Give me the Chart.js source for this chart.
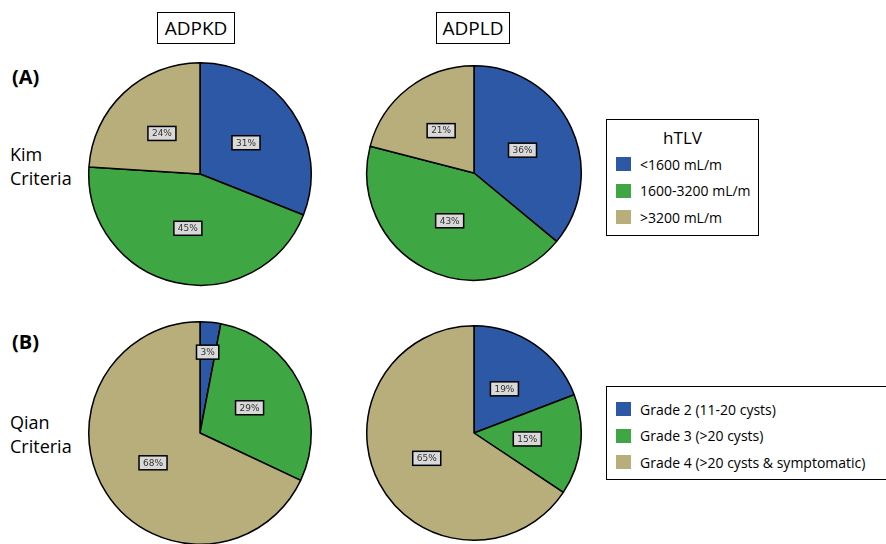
<!DOCTYPE html>
<html>
<head>
<meta charset="utf-8">
<script src="https://cdn.jsdelivr.net/npm/chart.js@4"></script>
<style>
  body { margin: 0; width: 886px; height: 544px; overflow: hidden; background: #fff; font-family: "Open Sans", sans-serif; position: relative; }
  .pie { position: absolute; }
  .hdr { position: absolute; border: 1.5px solid #000; font-size: 19px; line-height: 30px; text-align: center; top: 12px; height: 30px; }
  .tag { position: absolute; font-weight: bold; font-size: 20px; }
  .row { position: absolute; font-size: 18px; line-height: 24px; left: 10px; }
  .legend { position: absolute; border: 1.5px solid #000; background: #fff; font-size: 14px; }
  .legend .ttl { text-align: center; font-size: 17px; margin-top: 6px; margin-bottom: 2px; }
  .legend .item { display: flex; align-items: center; height: 26.5px; padding-left: 9px; white-space: nowrap; }
  .legend .sw { width: 15px; height: 14px; margin-right: 9px; flex: none; }
</style>
</head>
<body>
<div class="hdr" style="left:157px;width:76px;">ADPKD</div>
<div class="hdr" style="left:436px;width:72px;">ADPLD</div>
<div class="tag" style="left:12px;top:63px;">(A)</div>
<div class="tag" style="left:12px;top:328px;">(B)</div>
<div class="row" style="top:142px;">Kim<br>Criteria</div>
<div class="row" style="top:410px;">Qian<br>Criteria</div>

<canvas id="pieA1" class="pie" width="226" height="226" style="left:87px;top:61px;"></canvas>
<canvas id="pieA2" class="pie" width="218" height="218" style="left:365px;top:64px;"></canvas>
<canvas id="pieB1" class="pie" width="226" height="226" style="left:87px;top:320px;"></canvas>
<canvas id="pieB2" class="pie" width="218" height="218" style="left:365px;top:324px;"></canvas>

<div id="legA" class="legend" style="left:606px;top:119px;width:151px;height:115px;"></div>
<div id="legB" class="legend" style="left:606px;top:386px;width:300px;height:92px;"></div>

<script>
var colors = ['#2c58a5', '#3ea743', '#b7ae7b'];

var kimTitle = 'hTLV';
var kimLabels = ['<1600 mL/m', '1600-3200 mL/m', '>3200 mL/m'];
var kimADPKD = [31, 45, 24];
var kimADPLD = [36, 43, 21];

var qianLabels = ['Grade 2 (11-20 cysts)', 'Grade 3 (>20 cysts)', 'Grade 4 (>20 cysts & symptomatic)'];
var qianADPKD = [3, 29, 68];
var qianADPLD = [19, 15, 65];

// percent boxes drawn on each slice
var boxLabels = {
    id: 'boxLabels',
    afterDatasetsDraw: function (chart) {
        var ctx = chart.ctx;
        var meta = chart.getDatasetMeta(0);
        var data = chart.data.datasets[0].data;
        var total = data.reduce(function (a, b) { return a + b; }, 0);
        ctx.save();
        ctx.font = '9px "DejaVu Sans", sans-serif';
        ctx.textAlign = 'center';
        ctx.textBaseline = 'middle';
        meta.data.forEach(function (arc, i) {
            var mid = (arc.startAngle + arc.endAngle) / 2;
            var f = data[i] / total < 0.05 ? 0.73 : 0.5;
            var x = arc.x + Math.cos(mid) * arc.outerRadius * f;
            var y = arc.y + Math.sin(mid) * arc.outerRadius * f;
            var txt = data[i] + '%';
            var w = ctx.measureText(txt).width + 8;
            ctx.fillStyle = '#d9d9d9';
            ctx.fillRect(x - w / 2, y - 7, w, 14);
            ctx.lineWidth = 1.5;
            ctx.strokeStyle = '#000';
            ctx.strokeRect(x - w / 2, y - 7, w, 14);
            ctx.fillStyle = '#333';
            ctx.fillText(txt, x, y + 0.5);
        });
        ctx.restore();
    }
};

function makePie(id, labels, values) {
    new Chart(document.getElementById(id), {
        type: 'pie',
        data: {
            labels: labels,
            datasets: [{
                data: values,
                backgroundColor: colors,
                borderColor: '#000',
                borderWidth: 1.5
            }]
        },
        options: {
            responsive: false,
            animation: false,
            layout: { padding: 1 },
            plugins: {
                legend: { display: false },
                tooltip: { enabled: false }
            }
        },
        plugins: [boxLabels]
    });
}

makePie('pieA1', kimLabels, kimADPKD);
makePie('pieA2', kimLabels, kimADPLD);
makePie('pieB1', qianLabels, qianADPKD);
makePie('pieB2', qianLabels, qianADPLD);

function makeLegend(id, title, labels) {
    var el = document.getElementById(id);
    var html = title ? '<div class="ttl">' + title + '</div>' : '<div style="height:9px"></div>';
    labels.forEach(function (l, i) {
        var safe = l.replace(/&/g, '&amp;').replace(/</g, '&lt;').replace(/>/g, '&gt;');
        html += '<div class="item"><span class="sw" style="background:' + colors[i] + '"></span>' + safe + '</div>';
    });
    el.innerHTML = html;
}
makeLegend('legA', kimTitle, kimLabels);
makeLegend('legB', null, qianLabels);
</script>
</body>
</html>
